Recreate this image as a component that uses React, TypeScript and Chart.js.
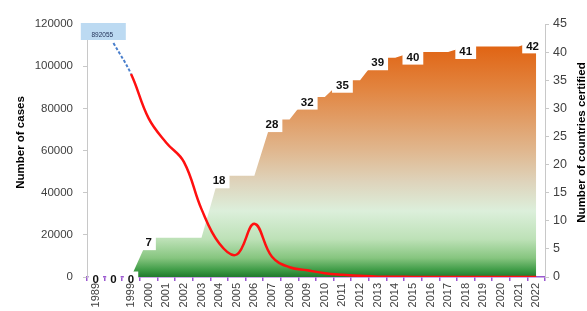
import React, { useEffect, useRef } from 'react';
import { Chart, registerables } from 'chart.js';

Chart.register(...registerables);

const years: string[] = [
  '1989', '', '1999', '2000', '2001', '2002', '2003', '2004', '2005', '2006', '2007', '2008',
  '2009', '2010', '2011', '2012', '2013', '2014', '2015', '2016', '2017', '2018', '2019',
  '2020', '2021', '2022',
];

// Number of cases (left axis). 1989 is off scale and shown in the callout box.
const cases: (number | null)[] = [
  null, 111000, 96293, 75223, 63717, 54638, 32193, 16026, 10674, 25217, 9585, 4619,
  3190, 1797, 1058, 542, 148, 126, 22, 25, 30, 28, 54, 27, 15, 13,
];
const offScaleCasesLabel = '892055';

// Number of countries certified (right axis)
const countriesCertified: number[] = [
  0, 0, 0, 7, 7, 7, 7, 18, 18, 18, 28, 28, 32, 32, 35, 35, 39, 39, 40, 40, 40, 41, 41, 41, 41, 42,
];

const leftTitle = 'Number of cases';
const rightTitle = 'Number of countries certified';
const casesMax = 120000;
const casesStep = 20000;
const countriesMax = 45;
const countriesStep = 5;

const FONT = '"Liberation Sans", Arial, sans-serif';

const overlayPlugin = {
  id: 'overlay',
  afterDatasetsDraw(chart: any) {
    const c: CanvasRenderingContext2D = chart.ctx;
    const a = chart.chartArea;
    const meta = chart.getDatasetMeta(0);
    c.save();
    c.beginPath();
    c.rect(0, 0, chart.width, a.bottom + 6);
    c.clip();
    c.font = `bold 11.5px ${FONT}`;
    c.textAlign = 'center';
    c.textBaseline = 'middle';
    countriesCertified.forEach((v, i) => {
      const show = i === 0 || v === 0 || v !== countriesCertified[i - 1];
      if (!show) return;
      const pt = meta.data[i];
      const text = String(v);
      const tw = c.measureText(text).width;
      const w = tw + 8;
      const h = 15;
      let cx = pt.x;
      if (cx + w / 2 > a.right - 2) cx = a.right - 2 - w / 2;
      const cy = Math.min(pt.y + 5, a.bottom + 2);
      c.fillStyle = '#ffffff';
      c.fillRect(cx - w / 2, cy - h / 2, w, h);
      c.fillStyle = '#111111';
      c.fillText(text, cx, cy + 0.5);
    });
    c.restore();

    const x0 = chart.scales.x.getPixelForValue(0);
    c.save();
    c.fillStyle = '#bcdaf2';
    c.fillRect(x0 - 15, a.top - 1, 45, 17);
    c.font = `6.5px ${FONT}`;
    c.fillStyle = '#1f2f55';
    c.textAlign = 'center';
    c.textBaseline = 'middle';
    c.fillText(offScaleCasesLabel, x0 + 6.5, a.top + 11.5);
    c.restore();
  },
  afterDraw(chart: any) {
    const c: CanvasRenderingContext2D = chart.ctx;
    const a = chart.chartArea;
    const cy = (a.top + a.bottom) / 2 - 8;
    c.save();
    c.font = `bold 11.5px ${FONT}`;
    c.fillStyle = '#000000';
    c.textAlign = 'center';
    c.textBaseline = 'middle';
    c.translate(20.5, cy);
    c.rotate(-Math.PI / 2);
    c.fillText(leftTitle, 0, 0);
    c.restore();
    c.save();
    c.font = `bold 11.5px ${FONT}`;
    c.fillStyle = '#000000';
    c.textAlign = 'center';
    c.textBaseline = 'middle';
    c.translate(581.5, cy);
    c.rotate(-Math.PI / 2);
    c.fillText(rightTitle, 0, 0);
    c.restore();
  },
};

export default function App() {
  const ref = useRef<HTMLCanvasElement>(null);
  useEffect(() => {
    document.body.style.margin = '0';
    const canvas = ref.current!;
    const chart = new Chart(canvas, {
      type: 'line',
      data: {
        labels: years,
        datasets: [
          {
            label: 'Number of countries certified',
            data: countriesCertified,
            yAxisID: 'y2',
            order: 2,
            fill: 'origin',
            tension: 0,
            borderWidth: 0,
            borderColor: 'rgba(0,0,0,0)',
            pointRadius: 0,
            backgroundColor: (ctx: any) => {
              const ch = ctx.chart;
              if (!ch.chartArea) return '#8ecb88';
              const y2 = ch.scales.y2;
              const top = y2.getPixelForValue(Math.max(...countriesCertified));
              const bottom = y2.getPixelForValue(0);
              const g = ch.ctx.createLinearGradient(0, top, 0, bottom);
              g.addColorStop(0, '#e0600e');
              g.addColorStop(0.2, '#e2843f');
              g.addColorStop(0.46, '#e0b68d');
              g.addColorStop(0.6, '#ded4bc');
              g.addColorStop(0.72, '#dcefdb');
              g.addColorStop(0.84, '#bde1b7');
              g.addColorStop(0.92, '#86c57f');
              g.addColorStop(0.97, '#3f9c47');
              g.addColorStop(1, '#1f7a2c');
              return g;
            },
          },
          {
            label: 'Number of cases',
            data: cases,
            yAxisID: 'y',
            order: 1,
            fill: false,
            tension: 0.4,
            borderWidth: 2.5,
            borderColor: '#ff1010',
            pointRadius: 0,
            spanGaps: false,
            segment: {
              borderColor: (ctx: any) => (ctx.p0DataIndex === 1 ? '#4a7fcc' : '#ff1010'),
              borderDash: (ctx: any) => (ctx.p0DataIndex === 1 ? [3, 2] : []),
              borderWidth: (ctx: any) => (ctx.p0DataIndex === 1 ? 2 : 2.5),
            },
          },
        ],
      },
      options: {
        responsive: false,
        devicePixelRatio: 1,
        animation: false,
        layout: { padding: { top: 24, left: 0, right: 0, bottom: 0 } },
        plugins: {
          legend: { display: false },
          tooltip: { enabled: false },
        },
        scales: {
          x: {
            type: 'category',
            offset: true,
            grid: {
              offset: true,
              display: true,
              drawOnChartArea: false,
              drawTicks: true,
              tickLength: 4,
              color: '#9b59d0',
              lineWidth: 1.5,
            },
            border: { display: true, color: '#9b59d0', width: 1.5 },
            ticks: {
              autoSkip: false,
              maxRotation: 90,
              minRotation: 90,
              padding: 2,
              color: '#404040',
              font: { size: 11, family: FONT },
            },
            afterFit: (s: any) => {
              s.height = 34;
            },
          },
          y: {
            position: 'left',
            min: 0,
            max: casesMax,
            ticks: {
              stepSize: casesStep,
              padding: 10,
              color: '#404040',
              font: { size: 11.5, family: FONT },
              callback: (v: any) => String(v),
            },
            grid: { drawOnChartArea: false, tickLength: 4, color: '#c8c8c8' },
            border: { display: true, color: '#c8c8c8' },
            afterFit: (s: any) => {
              s.width = 87;
            },
          },
          y2: {
            position: 'right',
            min: 0,
            max: countriesMax,
            ticks: {
              stepSize: countriesStep,
              padding: 4,
              color: '#404040',
              font: { size: 12.5, family: FONT },
              callback: (v: any) => String(v),
            },
            grid: { drawOnChartArea: false, tickLength: 4, color: '#c8c8c8' },
            border: { display: true, color: '#c8c8c8' },
            afterFit: (s: any) => {
              s.width = 42;
            },
          },
        },
      },
      plugins: [overlayPlugin],
    } as any);
    return () => chart.destroy();
  }, []);
  return (
    <div style={{ position: 'fixed', left: 0, top: 0, width: 587, height: 311, background: '#fff' }}>
      <canvas ref={ref} width={587} height={311} style={{ display: 'block', width: 587, height: 311 }} />
    </div>
  );
}
